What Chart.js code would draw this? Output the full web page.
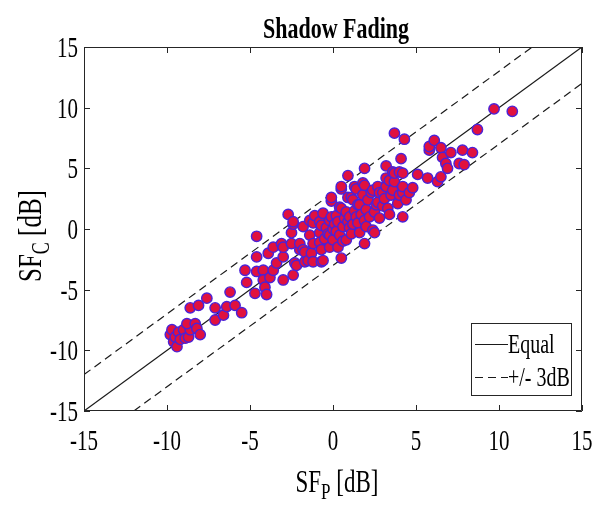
<!DOCTYPE html>
<html>
<head>
<meta charset="utf-8">
<title>Shadow Fading</title>
<script src="https://cdn.jsdelivr.net/npm/chart.js@4.4.1/dist/chart.umd.min.js"></script>
<style>
  html, body { margin: 0; padding: 0; background: #fff; }
  #wrap { width: 602px; height: 508px; }
</style>
</head>
<body>
<div id="wrap"><canvas id="sfChart" width="602" height="508"></canvas></div>
<script>
// Axis range and tick labels (dB)
const AXIS_MIN = -15;
const AXIS_MAX = 15;
const tickValues = [-15, -10, -5, 0, 5, 10, 15];

// Reference lines: equal and +/- 3 dB offsets
const equalLine = [[-15, -15], [15, 15]];
const upperLine = [[-15, -12], [12, 15]];
const lowerLine = [[-12, -15], [15, 12]];

// Shadow fading samples: predicted (SF_P) vs. computed (SF_C), dB
const sfP = [
  -9.8, -9.7, -9.6, -9.5, -9.4, -9.3, -9.2, -9.0, -8.9, -8.7, -8.6, -8.8, -8.3,
  -8.2, -8.0, -8.6, -8.1, -7.6, -7.1, -7.1, -6.6, -6.4, -5.9, -5.5, -6.2,
  -5.3, -5.2, -4.7, -4.6, -4.6, -4.6, -4.2, -4.2, -4.1, -4.0, -3.9, -3.8, -3.6,
  -3.6, -3.4, -3.1, -3.0, -3.0, -3.0, -2.7, -2.5, -2.5, -2.4, -2.4, -2.4, -2.3,
  -2.2, -2.0, -2.0, -1.8, -1.8, -1.7, -1.7, -1.5, -1.4, -1.4, -1.3, -1.2, -1.2,
  -1.2, -1.1,
  -0.8, -0.8, -0.8, -0.7, -0.7, -0.7, -0.6, -0.6, -0.5, -0.4, -0.3, -0.2, -0.2,
  -0.2, -0.1, -0.1, -0.1, 0.0, 0.0, 0.1, 0.2, 0.2, 0.3, 0.3, 0.4, 0.4, 0.5,
  0.5, 0.5, 0.5, 0.6, 0.6, 0.7, 0.8, 0.8, 0.9, 0.9, 0.9, 1.0, 1.0, 1.1, 1.1,
  1.2, 1.2, 1.3, 1.3, 1.4, 1.4, 1.5, 1.5, 1.6, 1.6, 1.7, 1.8, 1.8, 1.9, 1.9,
  1.9, 1.9, 2.0, 2.0,
  2.1, 2.2, 2.3, 2.4, 2.4, 2.5, 2.5, 2.6, 2.7, 2.7, 2.8, 2.8, 3.0, 3.0, 3.1,
  3.2, 3.2, 3.2, 3.3, 3.4, 3.4, 3.5, 3.6, 3.6, 3.7, 3.7, 3.7, 3.9, 4.0, 4.0,
  4.1, 4.2, 4.2, 4.2, 4.2, 4.3, 4.4, 4.6, 4.8,
  5.1, 5.7, 5.8, 5.8, 6.1, 6.3, 6.5, 6.5, 6.6, 6.8, 6.9, 7.1, 7.6, 7.8, 7.9,
  8.4, 8.7, 9.7, 10.8
];
const sfC = [
  -8.7, -8.3, -9.3, -8.9, -9.7, -8.5, -9.1, -8.3, -9.0, -8.9, -8.3, -7.8, -7.8,
  -8.2, -8.7, -6.5, -6.3, -5.7, -6.5, -7.5, -7.1, -6.4, -6.3, -6.9, -5.2,
  -3.4, -4.4, -5.3, -3.5, -2.3, -0.6, -3.4, -4.2, -4.8, -5.4, -2.0, -4.0, -3.4,
  -1.5, -2.8, -1.2, -4.2, -2.3, -1.5, 1.2, -1.2, -0.3, 0.4, 0.6, -3.8, -2.8,
  -3.0, -1.7, -1.2, -1.7, 0.2, -2.7, -1.9, -2.6, -0.5, 0.7, -2.0, -1.2, 0.5,
  -2.7, 1.1,
  -0.3, -1.1, 0.6, -1.7, -2.7, 0.3, 1.3, -2.6, -0.8, 0.1, -0.4, -1.5, -0.5,
  0.7, 1.0, 2.3, 2.6, 0.0, -0.9, 0.4, 1.1, -0.2, -1.5, 0.6, -0.5, 1.8, -2.4,
  1.7, 3.3, 3.5, 0.2, -1.0, 0.9, -0.9, 1.4, 0.6, 2.6, 4.4, 0.1, 1.0, -0.4, 2.6,
  2.4, 0.4, 1.5, 3.5, 1.0, 3.3, 0.5, 2.0, 2.0, -0.3, 1.2, 3.8, 2.8, 0.7, -1.2,
  3.6, 5.0, 1.6, 0.2,
  2.4, 1.0, 3.0, 3.2, -0.1, -0.3, 1.4, 2.0, 2.2, 3.5, 3.0, 0.9, 3.0, 1.9, 2.5,
  3.5, 4.2, 5.2, 1.7, 1.2, 4.0, 2.8, 3.2, 4.7, 3.9, 7.9, 4.6, 2.1, 4.7, 2.8,
  5.8, 1.0, 3.0, 3.5, 4.6, 7.4, 2.4, 3.0, 3.4,
  4.5, 4.2, 6.5, 6.8, 7.3, 3.9, 4.3, 6.7, 5.9, 5.4, 5.0, 6.3, 5.4, 6.5, 5.3,
  6.3, 8.2, 9.9, 9.7
];

// Styling
const FONT = '"Liberation Serif", "Times New Roman", serif';
const STRETCH = 1.38; // glyphs are drawn taller than they are wide
const AXIS_COLOR = '#262626';
const MARKER_FILL = '#e0113f';
const MARKER_EDGE = '#4a22d8';

const toPoints = (pairs) => pairs.map(([x, y]) => ({ x, y }));
const samples = sfP.map((x, i) => ({ x, y: sfC[i] }));

// Draw text with a vertical stretch, optionally rotated
function drawText(ctx, str, x, y, size, opts = {}) {
  ctx.save();
  ctx.translate(x, y);
  if (opts.rotate) ctx.rotate(opts.rotate);
  ctx.scale(1, STRETCH);
  ctx.font = `${opts.bold ? 'bold ' : ''}${size}px ${FONT}`;
  ctx.fillStyle = opts.color || '#000';
  ctx.textAlign = opts.align || 'left';
  ctx.textBaseline = 'alphabetic';
  ctx.fillText(str, 0, 0);
  ctx.restore();
}

// "SF" + subscript + " [dB]" as one label, centred on x
function drawSubLabel(ctx, sub, cx, baseline, size, rotate) {
  ctx.save();
  ctx.translate(cx, baseline);
  if (rotate) ctx.rotate(rotate);
  ctx.font = `${size}px ${FONT}`;
  const subSize = Math.round(size * 0.72);
  const wMain = ctx.measureText('SF').width;
  const wTail = ctx.measureText(' [dB]').width;
  ctx.font = `${subSize}px ${FONT}`;
  const wSub = ctx.measureText(sub).width;
  const total = wMain + wSub + wTail;
  let x = -total / 2;
  drawText(ctx, 'SF', x, 0, size);
  x += wMain;
  drawText(ctx, sub, x, size * 0.32, subSize);
  x += wSub;
  drawText(ctx, ' [dB]', x, 0, size);
  ctx.restore();
}

// Box, inward ticks, tick labels, titles
const axesPlugin = {
  id: 'matlabAxes',
  afterDatasetsDraw(chart) {
    const { ctx, chartArea: a, scales } = chart;
    const tl = 6;
    ctx.save();
    ctx.strokeStyle = AXIS_COLOR;
    ctx.lineWidth = 1;
    ctx.beginPath();
    ctx.rect(a.left + 0.5, a.top + 0.5, a.right - a.left - 1, a.bottom - a.top - 1);
    tickValues.forEach((v) => {
      const px = Math.round(scales.x.getPixelForValue(v)) + 0.5;
      ctx.moveTo(px, a.bottom); ctx.lineTo(px, a.bottom - tl);
      ctx.moveTo(px, a.top); ctx.lineTo(px, a.top + tl);
      const py = Math.round(scales.y.getPixelForValue(v)) + 0.5;
      ctx.moveTo(a.left, py); ctx.lineTo(a.left + tl, py);
      ctx.moveTo(a.right, py); ctx.lineTo(a.right - tl, py);
    });
    ctx.stroke();
    ctx.restore();

    tickValues.forEach((v) => {
      const px = scales.x.getPixelForValue(v);
      drawText(ctx, String(v), px, a.bottom + 39, 21, { align: 'center' });
      const py = scales.y.getPixelForValue(v);
      drawText(ctx, String(v), a.left - 6, py + 10, 21, { align: 'right' });
    });

    drawText(ctx, 'Shadow Fading', (a.left + a.right) / 2 + 3, 38, 22, { bold: true, align: 'center' });
    drawSubLabel(ctx, 'P', (a.left + a.right) / 2 + 4, 492, 23, 0);
    drawSubLabel(ctx, 'C', 41, (a.top + a.bottom) / 2 + 7, 25, -Math.PI / 2);
  },
  afterDraw(chart) {
    // Legend box for the two reference line styles
    const { ctx } = chart;
    const box = { x: 471, y: 323, w: 100, h: 72 };
    const entries = chart.data.datasets.filter((d) => d.legendText);
    ctx.save();
    ctx.fillStyle = '#fff';
    ctx.fillRect(box.x, box.y, box.w, box.h);
    ctx.strokeStyle = AXIS_COLOR;
    ctx.lineWidth = 1;
    ctx.strokeRect(box.x + 0.5, box.y + 0.5, box.w, box.h);
    entries.forEach((d, i) => {
      const ly = box.y + 21.5 + i * 33;
      ctx.strokeStyle = d.borderColor;
      ctx.lineWidth = d.borderWidth;
      ctx.setLineDash(d.borderDash || []);
      ctx.beginPath();
      ctx.moveTo(box.x + 4, ly);
      ctx.lineTo(box.x + 37, ly);
      ctx.stroke();
      ctx.setLineDash([]);
      drawText(ctx, d.legendText, box.x + 37, ly + 8.5, 20);
    });
    ctx.restore();
  }
};

const lineStyle = {
  type: 'line',
  showLine: true,
  borderColor: '#1a1a1a',
  borderWidth: 1.2,
  pointRadius: 0,
  pointHoverRadius: 0,
  fill: false,
  tension: 0,
  order: 2
};

const ctx = document.getElementById('sfChart').getContext('2d');
const sfChart = new Chart(ctx, {
  type: 'scatter',
  data: {
    datasets: [
      {
        label: 'Samples',
        data: samples,
        pointRadius: 5.2,
        pointHoverRadius: 5.2,
        pointBackgroundColor: MARKER_FILL,
        pointBorderColor: MARKER_EDGE,
        pointBorderWidth: 1.4,
        order: 1
      },
      { ...lineStyle, label: 'Equal', legendText: 'Equal', data: toPoints(equalLine) },
      { ...lineStyle, label: '+3dB', legendText: '+/- 3dB', borderDash: [8, 5], data: toPoints(upperLine) },
      { ...lineStyle, label: '-3dB', borderDash: [8, 5], data: toPoints(lowerLine) }
    ]
  },
  options: {
    responsive: false,
    animation: false,
    devicePixelRatio: 1,
    layout: { padding: { left: 0, right: 20, top: 47, bottom: 0 } },
    scales: {
      x: {
        type: 'linear',
        min: AXIS_MIN,
        max: AXIS_MAX,
        grid: { display: false },
        border: { display: false },
        ticks: { display: false, stepSize: 5 },
        afterFit: (scale) => { scale.height = 97; }
      },
      y: {
        type: 'linear',
        min: AXIS_MIN,
        max: AXIS_MAX,
        grid: { display: false },
        border: { display: false },
        ticks: { display: false, stepSize: 5 },
        afterFit: (scale) => { scale.width = 84; }
      }
    },
    plugins: {
      legend: { display: false },
      tooltip: { enabled: false }
    }
  },
  plugins: [axesPlugin]
});
</script>
</body>
</html>
